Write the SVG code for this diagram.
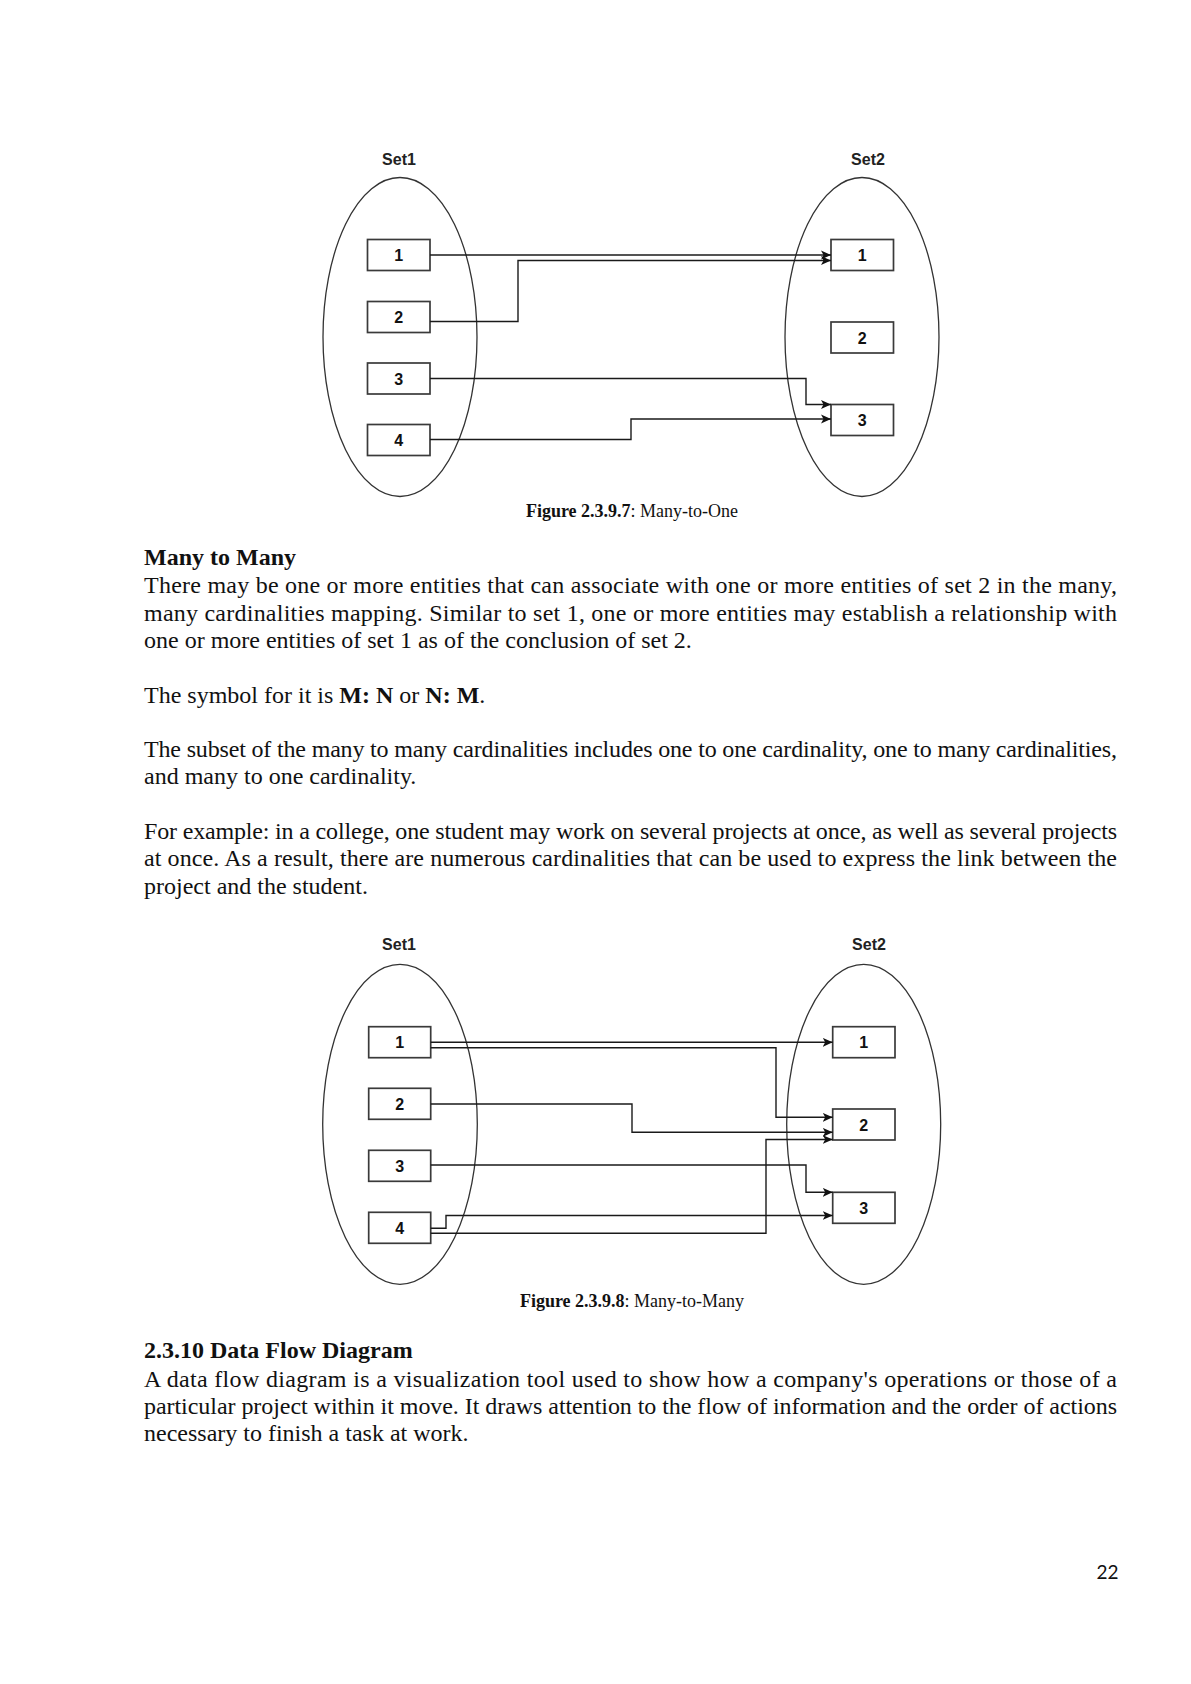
<svg xmlns="http://www.w3.org/2000/svg" width="1191" height="1684" viewBox="0 0 1191 1684">
<style>
  .bg { fill: #ffffff; }
  .set { fill: none; stroke: #333; stroke-width: 1.3; }
  .box { fill: #ffffff; stroke: #3a3a3a; stroke-width: 1.7; }
  .num { font-family: "Liberation Sans", Arial, sans-serif; font-weight: bold; font-size: 16px; fill: #111; text-anchor: middle; }
  .setlbl { font-family: "Liberation Sans", Arial, sans-serif; font-weight: bold; font-size: 16px; fill: #222; text-anchor: middle; }
  .conn { fill: none; stroke: #1a1a1a; stroke-width: 1.4; }
  .cap { font-family: "Liberation Serif", "Times New Roman", serif; font-size: 18px; fill: #111; text-anchor: middle; }
  .body { font-family: "Liberation Serif", "Times New Roman", serif; font-size: 24px; fill: #111; }
  .b { font-weight: bold; }
  .pg { font-family: Lato, "Liberation Sans", sans-serif; font-size: 19px; fill: #111; text-anchor: end; }
</style>
<defs>
  <marker id="arr" markerUnits="userSpaceOnUse" markerWidth="12" markerHeight="11" refX="10" refY="5" orient="auto">
    <path d="M0,0.5 L10,5 L0,9.5 L2.5,5 z" fill="#111"/>
  </marker>
</defs>
<rect class="bg" x="0" y="0" width="1191" height="1684"/>

<!-- Figure 2.3.9.7 -->
<g id="fig1">
  <g id="f1-set1">
    <text class="setlbl" x="399" y="165">Set1</text>
    <ellipse class="set" cx="400" cy="337" rx="77" ry="159.5"/>
  </g>
  <g id="f1-set2">
    <text class="setlbl" x="868" y="165">Set2</text>
    <ellipse class="set" cx="862" cy="337" rx="77" ry="159.5"/>
  </g>
  <g id="f1-l1"><rect class="box" x="367.5" y="239.5" width="62.5" height="31"/><text class="num" x="398.7" y="261">1</text></g>
  <g id="f1-l2"><rect class="box" x="367.5" y="301.5" width="62.5" height="31"/><text class="num" x="398.7" y="323">2</text></g>
  <g id="f1-l3"><rect class="box" x="367.5" y="363" width="62.5" height="31"/><text class="num" x="398.7" y="384.5">3</text></g>
  <g id="f1-l4"><rect class="box" x="367.5" y="424.5" width="62.5" height="31"/><text class="num" x="398.7" y="446">4</text></g>
  <g id="f1-r1"><rect class="box" x="831" y="239.5" width="62.5" height="31"/><text class="num" x="862.2" y="261">1</text></g>
  <g id="f1-r2"><rect class="box" x="831" y="322" width="62.5" height="31"/><text class="num" x="862.2" y="343.5">2</text></g>
  <g id="f1-r3"><rect class="box" x="831" y="404.5" width="62.5" height="31"/><text class="num" x="862.2" y="426">3</text></g>
  <g id="f1-connectors">
    <path class="conn" d="M430,255 H831" marker-end="url(#arr)"/>
    <path class="conn" d="M430,321.5 H518 V260.5 H831" marker-end="url(#arr)"/>
    <path class="conn" d="M430,378.5 H806 V404.5 H831" marker-end="url(#arr)"/>
    <path class="conn" d="M430,439.5 H631 V419 H831" marker-end="url(#arr)"/>
  </g>
  <text class="cap" x="632" y="516.5"><tspan class="b">Figure 2.3.9.7</tspan>: Many-to-One</text>
</g>

<!-- Text block 1 -->
<g id="text1" class="body">
  <text x="144" y="565" class="b">Many to Many</text>
  <text x="144" y="593" textLength="973" lengthAdjust="spacing">There may be one or more entities that can associate with one or more entities of set 2 in the many,</text>
  <text x="144" y="620.5" textLength="973" lengthAdjust="spacing">many cardinalities mapping. Similar to set 1, one or more entities may establish a relationship with</text>
  <text x="144" y="648">one or more entities of set 1 as of the conclusion of set 2.</text>
  <text x="144" y="703">The symbol for it is <tspan class="b">M: N</tspan> or <tspan class="b">N: M</tspan>.</text>
  <text x="144" y="756.5" textLength="973" lengthAdjust="spacing">The subset of the many to many cardinalities includes one to one cardinality, one to many cardinalities,</text>
  <text x="144" y="783.5">and many to one cardinality.</text>
  <text x="144" y="838.5" textLength="973" lengthAdjust="spacing">For example: in a college, one student may work on several projects at once, as well as several projects</text>
  <text x="144" y="866" textLength="973" lengthAdjust="spacing">at once. As a result, there are numerous cardinalities that can be used to express the link between the</text>
  <text x="144" y="893.5">project and the student.</text>
</g>

<!-- Figure 2.3.9.8 -->
<g id="fig2">
  <g id="f2-set1">
    <text class="setlbl" x="399" y="950">Set1</text>
    <ellipse class="set" cx="400" cy="1124.3" rx="77.3" ry="160"/>
  </g>
  <g id="f2-set2">
    <text class="setlbl" x="869" y="950">Set2</text>
    <ellipse class="set" cx="863.7" cy="1124.3" rx="77" ry="160"/>
  </g>
  <g id="f2-l1"><rect class="box" x="368.7" y="1026.7" width="62" height="31"/><text class="num" x="399.7" y="1048.2">1</text></g>
  <g id="f2-l2"><rect class="box" x="368.7" y="1088.3" width="62" height="31"/><text class="num" x="399.7" y="1109.8">2</text></g>
  <g id="f2-l3"><rect class="box" x="368.7" y="1150.3" width="62" height="31"/><text class="num" x="399.7" y="1171.8">3</text></g>
  <g id="f2-l4"><rect class="box" x="368.7" y="1212.3" width="62" height="31"/><text class="num" x="399.7" y="1233.8">4</text></g>
  <g id="f2-r1"><rect class="box" x="832.7" y="1026.7" width="62.3" height="31"/><text class="num" x="863.8" y="1048.2">1</text></g>
  <g id="f2-r2"><rect class="box" x="832.7" y="1109" width="62.3" height="31"/><text class="num" x="863.8" y="1130.5">2</text></g>
  <g id="f2-r3"><rect class="box" x="832.7" y="1192.3" width="62.3" height="31"/><text class="num" x="863.8" y="1213.8">3</text></g>
  <g id="f2-connectors">
    <path class="conn" d="M430.7,1042.3 H832.7" marker-end="url(#arr)"/>
    <path class="conn" d="M430.7,1047.7 H776 V1117.3 H832.7" marker-end="url(#arr)"/>
    <path class="conn" d="M430.7,1104 H632 V1132.3 H832.7" marker-end="url(#arr)"/>
    <path class="conn" d="M430.7,1165 H806 V1192.3 H832.7" marker-end="url(#arr)"/>
    <path class="conn" d="M430.7,1228.3 H446 V1215.5 H832.7" marker-end="url(#arr)"/>
    <path class="conn" d="M430.7,1233.3 H766 V1139.5 H832.7" marker-end="url(#arr)"/>
  </g>
  <text class="cap" x="632" y="1306.5"><tspan class="b">Figure 2.3.9.8</tspan>: Many-to-Many</text>
</g>

<!-- Text block 2 -->
<g id="text2" class="body">
  <text x="144" y="1358.3" class="b">2.3.10 Data Flow Diagram</text>
  <text x="144" y="1386.5" textLength="973" lengthAdjust="spacing">A data flow diagram is a visualization tool used to show how a company's operations or those of a</text>
  <text x="144" y="1413.5" textLength="973" lengthAdjust="spacing">particular project within it move. It draws attention to the flow of information and the order of actions</text>
  <text x="144" y="1440.5">necessary to finish a task at work.</text>
</g>

<text class="pg" x="1118.5" y="1579">22</text>
</svg>
